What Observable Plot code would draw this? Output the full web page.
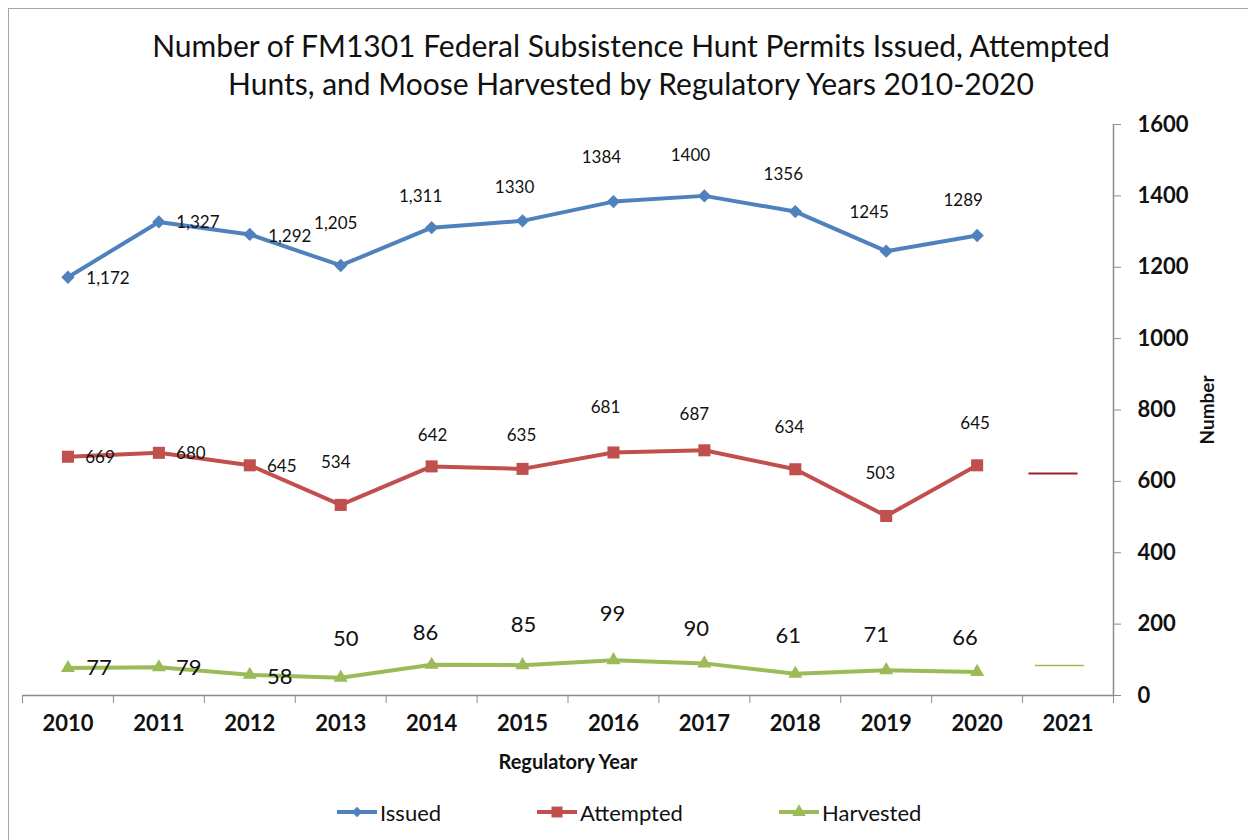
<!DOCTYPE html>
<html>
<head>
<meta charset="utf-8">
<script src="https://cdn.jsdelivr.net/npm/d3@7"></script>
<script src="https://cdn.jsdelivr.net/npm/@observablehq/plot@0.6"></script>
<style>
  html, body { margin: 0; padding: 0; background: #fff; }
  #wrap { position: relative; width: 1248px; height: 840px; overflow: hidden; font-family: Lato, "Open Sans", sans-serif; }
  #frame { position: absolute; left: 8px; top: 8px; width: 2000px; height: 2000px; border-top: 1.5px solid #a6a6a6; border-left: 1.5px solid #a6a6a6; }
  #title { position: absolute; left: 0; top: 26px; width: 1262px; text-align: center; font-size: 30px; line-height: 38px; color: #111; }
  #chart { position: absolute; left: 0; top: 110px; }
  #legend { position: absolute; left: 0; top: 797px; width: 1248px; height: 30px; }
  .item { position: absolute; top: 0; display: flex; align-items: center; font-size: 22px; color: #111; }
  .item svg { margin-right: 2px; }
</style>
</head>
<body>
<div id="wrap">
  <div id="frame"></div>
  <div id="title">Number of FM1301 Federal Subsistence Hunt Permits Issued, Attempted<br>Hunts, and Moose Harvested by Regulatory Years 2010-2020</div>
  <div id="chart"></div>
  <div id="legend"></div>
</div>
<script>
// ---- data ----
const years = [2010, 2011, 2012, 2013, 2014, 2015, 2016, 2017, 2018, 2019, 2020];
const xTickLabels = ["2010", "2011", "2012", "2013", "2014", "2015", "2016", "2017", "2018", "2019", "2020", "2021"];
const issued = [1172, 1327, 1292, 1205, 1311, 1330, 1384, 1400, 1356, 1245, 1289];
const issuedLabels = ["1,172", "1,327", "1,292", "1,205", "1,311", "1330", "1384", "1400", "1356", "1245", "1289"];
const attempted = [669, 680, 645, 534, 642, 635, 681, 687, 634, 503, 645];
const harvested = [77, 79, 58, 50, 86, 85, 99, 90, 61, 71, 66];
const yTicks = [0, 200, 400, 600, 800, 1000, 1200, 1400, 1600];
const seriesNames = ["Issued", "Attempted", "Harvested"];
// short stray segments near 2021 (value, from-year, to-year)
const attemptedStub = [622, 2020.57, 2021.11];
const harvestedStub = [84, 2020.64, 2021.18];

// ---- label placement (pixel offsets from each point) ----
const issuedLabelOffsets = [[40,1],[39,1],[40,2],[-5,-42],[-11,-31],[-8,-33],[-12,-44],[-14,-40],[-12,-37],[-17,-39],[-14,-35]];
const attemptedLabelOffsets = [[32,1],[32,1],[32,1],[-5,-42],[1,-31],[-1,-33],[-8,-45],[-10,-36],[-6,-42],[-6,-42],[-2,-42]];
const harvestedLabelOffsets = [[31,0],[30,1],[30,2],[5,-39],[-6,-32],[1,-40],[-1,-46],[-8,-34],[-7,-38],[-10,-35],[-12,-34]];

const colors = {Issued: "#4f81bd", Attempted: "#c0504d", Harvested: "#9bbb59"};
const axisGray = "#8c8c8c";

const allYears = xTickLabels.map(Number);
const bounds = [allYears[0] - 0.5, ...allYears.map(y => y + 0.5)];

const mk = (vals) => years.map((y, i) => ({year: y, value: vals[i]}));
const dIssued = mk(issued), dAtt = mk(attempted), dHarv = mk(harvested);

function labels(data, texts, offsets, size) {
  return data.map((d, i) => Plot.text([d], {
    x: "year", y: "value", text: () => texts[i],
    dx: offsets[i][0], dy: offsets[i][1],
    fontSize: size, fill: "#111"
  }));
}

const chart = Plot.plot({
  width: 1248, height: 690,
  marginTop: 14, marginBottom: 105, marginLeft: 22, marginRight: 135,
  x: {type: "linear", domain: [bounds[0], bounds[bounds.length - 1]]},
  y: {domain: [0, 1600]},
  style: {fontFamily: "Lato, 'Open Sans', sans-serif", background: "transparent", overflow: "visible"},
  marks: [
    Plot.ruleY([0], {stroke: axisGray, strokeWidth: 1.5}),
    Plot.ruleX([bounds[bounds.length - 1]], {stroke: axisGray, strokeWidth: 1.5}),
    Plot.axisX({ticks: bounds, tickSize: 8, tickFormat: () => "", stroke: axisGray, label: null}),
    Plot.axisX({ticks: allYears, tickSize: 0, tickPadding: 20, tickFormat: (d) => xTickLabels[allYears.indexOf(d)],
      fontSize: 22, fontWeight: "bold", fill: "#111", label: null}),
    Plot.axisY({anchor: "right", ticks: yTicks, tickSize: 7, tickPadding: 17, tickFormat: (d) => String(d),
      fontSize: 22, fontWeight: "bold", stroke: axisGray, fill: "#111", label: null}),
    Plot.text(["Regulatory Year"], {frameAnchor: "bottom", dy: 73, fontSize: 20, fontWeight: "bold", fill: "#111"}),
    Plot.text(["Number"], {frameAnchor: "right", textAnchor: "middle", dx: 94, rotate: -90, fontSize: 19, fontWeight: "bold", fill: "#111"}),
    // stray stubs
    Plot.ruleY([attemptedStub], {y: d => d[0], x1: d => d[1], x2: d => d[2], stroke: "#a32020", strokeWidth: 2}),
    Plot.ruleY([harvestedStub], {y: d => d[0], x1: d => d[1], x2: d => d[2], stroke: "#9bbb59", strokeWidth: 1.5}),
    // series
    Plot.line(dIssued, {x: "year", y: "value", stroke: colors.Issued, strokeWidth: 4}),
    Plot.dot(dIssued, {x: "year", y: "value", symbol: "diamond2", r: 6, fill: colors.Issued, stroke: null}),
    Plot.line(dAtt, {x: "year", y: "value", stroke: colors.Attempted, strokeWidth: 4}),
    Plot.dot(dAtt, {x: "year", y: "value", symbol: "square", r: 6.8, fill: colors.Attempted, stroke: null}),
    Plot.line(dHarv, {x: "year", y: "value", stroke: colors.Harvested, strokeWidth: 4}),
    Plot.dot(dHarv, {x: "year", y: "value", symbol: "triangle", r: 5.2, fill: colors.Harvested, stroke: null}),
    ...labels(dIssued, issuedLabels, issuedLabelOffsets, 17),
    ...labels(dAtt, attempted.map(String), attemptedLabelOffsets, 17),
    ...labels(dHarv, harvested.map(String), harvestedLabelOffsets, 22)
  ]
});
document.getElementById("chart").appendChild(chart);

// ---- legend ----
const legendX = [336, 536, 778];
const symbolPaths = {
  Issued: d3.symbol(d3.symbolDiamond2, 70)(),
  Attempted: d3.symbol(d3.symbolSquare, 120)(),
  Harvested: d3.symbol(d3.symbolTriangle, 80)()
};
const legend = document.getElementById("legend");
seriesNames.forEach((name, i) => {
  const div = document.createElement("div");
  div.className = "item";
  div.style.left = legendX[i] + "px";
  div.innerHTML = `<svg width="42" height="30"><line x1="1" x2="41" y1="15" y2="15" stroke="${colors[name]}" stroke-width="4"/>` +
    `<path d="${symbolPaths[name]}" transform="translate(21,15)" fill="${colors[name]}"/></svg><span>${name}</span>`;
  legend.appendChild(div);
});
</script>
</body>
</html>
